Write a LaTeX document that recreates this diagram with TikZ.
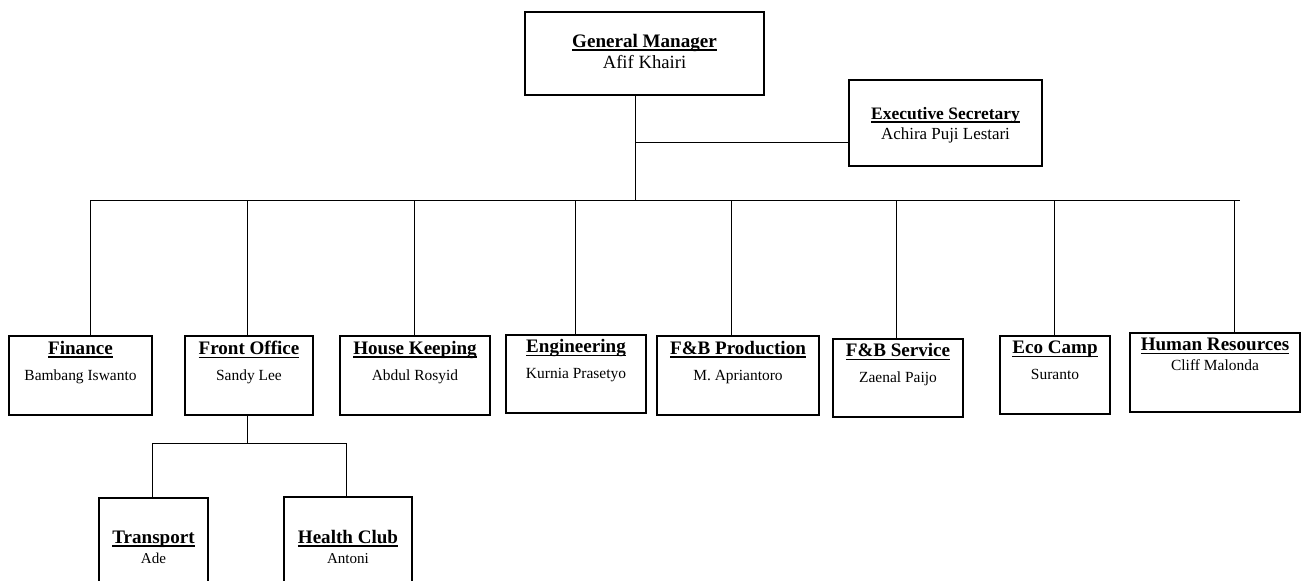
\documentclass[tikz,border=0pt]{standalone}
\usepackage{fontspec}
\setmainfont{Liberation Serif}
\tikzset{post/.style={draw,line width=0.8pt,align=center,inner sep=0pt,text depth=22pt,font=\fontsize{11.6}{19.5}\selectfont},
  wh/.style 2 args={minimum width=#1*0.75pt,minimum height=#2*0.75pt},
  link/.style={draw,line width=0.6pt}}
\newcommand{\ttl}[2][14.3]{\setbox0\hbox{\fontsize{#1}{#1}\selectfont\bfseries #2}\rlap{\rule[-2.6pt]{\wd0}{1.1pt}}\box0}

\begin{document}
\begin{tikzpicture}[x=0.75pt,y=-0.75pt]
\useasboundingbox (0,0) rectangle (1306,581);
\clip (0,0) rectangle (1306,581);
\node[post,wh={239}{83},text depth=3pt,font=\fontsize{14}{16}\selectfont] (gm) at (644.5,53.5) {\ttl{General Manager}\\Afif Khairi};
\node[post,wh={193}{86},text depth=0pt,font=\fontsize{12.7}{15}\selectfont] (sec) at (945.5,123) {\ttl[13.1]{Executive Secretary}\\Achira Puji Lestari};

\node[post,wh={143}{79}] (fin) at (80.5,375.5) {\ttl{Finance}\\Bambang Iswanto};
\node[post,wh={128}{79}] (fo) at (249,375.5) {\ttl{Front Office}\\Sandy Lee};
\node[post,wh={150}{79}] (hk) at (415,375.5) {\ttl{House Keeping}\\Abdul Rosyid};
\node[post,wh={140}{78}] (eng) at (576,374) {\ttl{Engineering}\\Kurnia Prasetyo};
\node[post,wh={162}{79}] (fbp) at (738,375.5) {\ttl{F\&B Production}\\M. Apriantoro};
\node[post,wh={130}{78}] (fbs) at (898,378) {\ttl{F\&B Service}\\Zaenal Paijo};
\node[post,wh={110}{78}] (eco) at (1055,375) {\ttl{Eco Camp}\\Suranto};
\node[post,wh={170}{79},text depth=27pt,font=\fontsize{11.6}{15}\selectfont] (hr) at (1215,372.5) {\ttl{Human Resources}\\Cliff Malonda};

\node[post,wh={109}{102},text depth=3pt,font=\fontsize{11.3}{15}\selectfont] (tr) at (153.5,549) {\ttl{Transport}\\Ade};
\node[post,wh={128}{103},text depth=3pt,font=\fontsize{11.3}{15}\selectfont] (hc) at (348,548.5) {\ttl{Health Club}\\Antoni};

\coordinate (gmb) at (635,200);
\coordinate (secj) at (635,142);
\draw[link] (gm.south -| gmb) -- (gmb);
\draw[link] (secj) -- (sec.west |- secj);

\coordinate (busl) at (90,200);
\coordinate (busr) at (1240,200);
\draw[link] (busl) -- (busr);
\foreach \n/\x in {fin/90,fo/247,hk/414,eng/575,fbp/731,fbs/896,eco/1054,hr/1234}{
  \coordinate (b-\n) at (\x,200);
  \draw[link] (b-\n) -- (b-\n |- \n.north);
}

\coordinate (foj) at (247,443);
\coordinate (trj) at (152,443);
\coordinate (hcj) at (346,443);
\draw[link] (fo.south -| foj) -- (foj);
\draw[link] (trj) -- (hcj);
\draw[link] (trj) -- (trj |- tr.north);
\draw[link] (hcj) -- (hcj |- hc.north);
\end{tikzpicture}
\end{document}
